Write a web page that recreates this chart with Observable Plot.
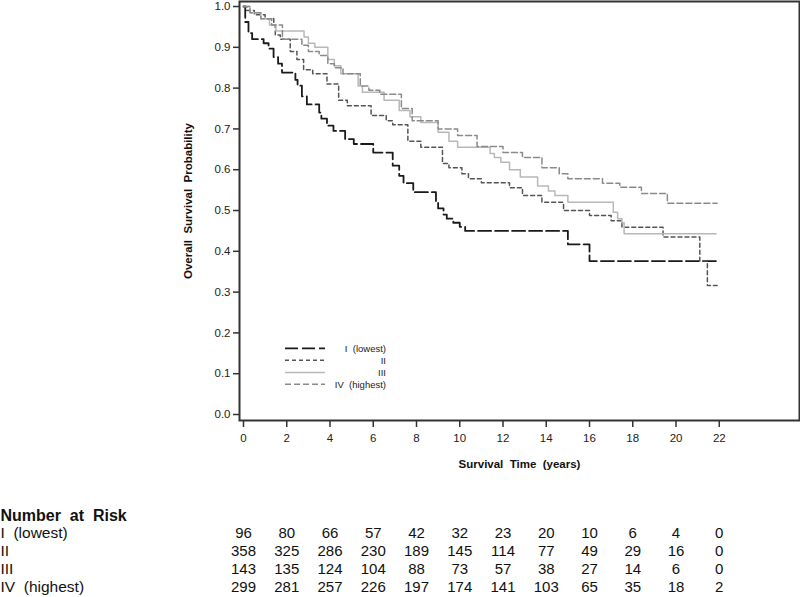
<!DOCTYPE html>
<html>
<head>
<meta charset="utf-8">
<script src="https://cdn.jsdelivr.net/npm/d3@7"></script>
<script src="https://cdn.jsdelivr.net/npm/@observablehq/plot@0.6"></script>
<style>
  html, body { margin: 0; padding: 0; background: #fff; }
  #wrap { position: relative; width: 800px; height: 597px; font-family: "Liberation Sans", Arial, Helvetica, sans-serif; }
  #wrap svg { display: block; white-space: pre; }
  #legend { position: absolute; left: 0; top: 0; }
</style>
</head>
<body>
<div id="wrap"></div>
<script>
// ---- Data ----
const groups = ["I (lowest)", "II", "III", "IV (highest)"];
const groupColors = ["#1a1a1a", "#555555", "#b8b8b8", "#8a8a8a"];
const groupDash = ["13,4", "4,3", "none", "6,3"];
const groupWidth = [1.8, 1.5, 1.5, 1.5];

const I_time = [0, 0.08, 0.23, 0.4, 0.93, 1.16, 1.39, 1.6, 1.78, 2.4, 2.5, 2.7, 2.93, 3.5, 3.6, 3.86, 4.16, 4.7, 5.1, 6.0, 6.9, 7.2, 7.4, 7.85, 8.9, 9.0, 9.25, 9.4, 9.7, 10.0, 10.25, 15.0, 16.0, 21.9];
const I_surv = [1.0, 0.962, 0.935, 0.92, 0.91, 0.897, 0.876, 0.86, 0.838, 0.82, 0.806, 0.78, 0.76, 0.74, 0.725, 0.708, 0.695, 0.675, 0.663, 0.642, 0.61, 0.585, 0.567, 0.545, 0.52, 0.505, 0.49, 0.48, 0.47, 0.46, 0.45, 0.417, 0.376, 0.376];

const II_time = [0, 0.15, 0.5, 1.0, 1.4, 1.47, 1.7, 2.16, 2.47, 2.78, 3.2, 3.86, 4.4, 4.8, 5.9, 6.6, 6.9, 7.6, 8.2, 9.2, 9.5, 10.1, 10.4, 11.0, 12.3, 12.9, 13.8, 14.8, 16.0, 17.0, 17.5, 19.4, 21.1, 21.45, 21.9];
const II_surv = [1.0, 0.99, 0.98, 0.97, 0.955, 0.93, 0.92, 0.89, 0.87, 0.845, 0.835, 0.81, 0.77, 0.757, 0.733, 0.72, 0.71, 0.67, 0.655, 0.615, 0.605, 0.59, 0.578, 0.568, 0.556, 0.537, 0.52, 0.50, 0.488, 0.475, 0.459, 0.435, 0.376, 0.316, 0.316];

const III_time = [0, 0.3, 0.8, 1.2, 1.5, 2.8, 3.0, 3.3, 3.9, 4.2, 4.5, 5.3, 5.5, 6.5, 7.2, 7.7, 8.2, 9.0, 9.5, 9.9, 11.4, 11.6, 11.9, 12.3, 12.8, 13.6, 14.1, 14.4, 15.0, 17.1, 17.3, 17.5, 17.6, 21.85];
const III_surv = [1.0, 0.985, 0.97, 0.955, 0.94, 0.925, 0.91, 0.90, 0.87, 0.855, 0.835, 0.805, 0.79, 0.77, 0.745, 0.73, 0.716, 0.692, 0.67, 0.655, 0.64, 0.63, 0.618, 0.60, 0.582, 0.56, 0.548, 0.537, 0.52, 0.496, 0.48, 0.47, 0.443, 0.443];

const IV_time = [0, 0.3, 0.8, 1.3, 1.8, 2.7, 3.0, 3.5, 3.9, 4.2, 4.6, 5.4, 5.8, 6.3, 7.3, 7.8, 9.0, 9.9, 10.8, 12.0, 12.9, 13.8, 14.6, 15.0, 16.6, 17.4, 18.4, 19.6, 21.9];
const IV_surv = [1.0, 0.985, 0.97, 0.955, 0.92, 0.905, 0.89, 0.88, 0.86, 0.85, 0.835, 0.805, 0.795, 0.785, 0.75, 0.72, 0.70, 0.684, 0.657, 0.642, 0.63, 0.605, 0.59, 0.578, 0.567, 0.557, 0.542, 0.518, 0.518];

const xTicks = [0, 2, 4, 6, 8, 10, 12, 14, 16, 18, 20, 22];
const yTicks = [0, 0.1, 0.2, 0.3, 0.4, 0.5, 0.6, 0.7, 0.8, 0.9, 1.0];

const xLabel = "Survival  Time  (years)";
const yLabel = "Overall  Survival  Probability";
const riskTitle = "Number  at  Risk";
const riskLabels = ["I  (lowest)", "II", "III", "IV  (highest)"];
const risk_I = [96, 80, 66, 57, 42, 32, 23, 20, 10, 6, 4, 0];
const risk_II = [358, 325, 286, 230, 189, 145, 114, 77, 49, 29, 16, 0];
const risk_III = [143, 135, 124, 104, 88, 73, 57, 38, 27, 14, 6, 0];
const risk_IV = [299, 281, 257, 226, 197, 174, 141, 103, 65, 35, 18, 2];

// ---- Build tables ----
const series = [[I_time, I_surv], [II_time, II_surv], [III_time, III_surv], [IV_time, IV_surv]];
const xDomain = [-0.185, 25.71];
const yDomain = [-0.0147, 1.0123];
const font = "'Liberation Sans', Arial, Helvetica, sans-serif";

const lineMarks = series.map(([t, s], gi) =>
  Plot.line(t.map((v, i) => ({time: v, surv: s[i]})), {
    x: "time", y: "surv", curve: "step-after",
    stroke: groupColors[gi], strokeWidth: groupWidth[gi],
    strokeDasharray: groupDash[gi]
  })
);

const main = Plot.plot({
  width: 800, height: 500,
  marginLeft: 239, marginRight: 1, marginTop: 1, marginBottom: 80,
  style: {fontFamily: font, fontSize: "11.5px", color: "#222", background: "#fff"},
  x: {domain: xDomain, ticks: xTicks, tickFormat: d3.format("d")},
  y: {domain: yDomain, ticks: yTicks, tickFormat: d3.format(".1f")},
  marks: [
    ...lineMarks,
    Plot.frame({stroke: "#333", strokeWidth: 2}),
    Plot.axisX(xTicks, {tickSize: 7, tickPadding: 6, stroke: "#333", strokeWidth: 1.5, label: null, fontSize: 11.5}),
    Plot.axisY(yTicks, {tickSize: 6, tickPadding: 3, stroke: "#333", strokeWidth: 1.5, label: null, fontSize: 11.5, tickFormat: d3.format(".1f")}),
    Plot.text([xLabel], {frameAnchor: "bottom", textAnchor: "middle", dy: 47, fontWeight: "bold", fontSize: 11.5, fill: "#111"}),
    Plot.text([yLabel], {frameAnchor: "left", textAnchor: "middle", dx: -51, dy: -10, rotate: -90, fontWeight: "bold", fontSize: 11.5, fill: "#111"})
  ]
});

// ---- Number at risk table (second plot sharing the x mapping) ----
const riskRows = [risk_I, risk_II, risk_III, risk_IV];
const riskData = [];
riskRows.forEach((row, ri) => row.forEach((n, ti) => riskData.push({time: xTicks[ti], row: ri, n})));
const labelData = riskLabels.map((l, ri) => ({row: ri, label: l}));

const table = Plot.plot({
  width: 800, height: 97,
  marginLeft: 239, marginRight: 1, marginTop: 0, marginBottom: 0,
  style: {fontFamily: font, background: "#fff"},
  x: {domain: xDomain, axis: null},
  y: {domain: [-1, 3], range: [15, 86.5], axis: null},
  marks: [
    Plot.text([riskTitle], {y: () => -1, frameAnchor: "left", dx: -239, textAnchor: "start", fontWeight: "bold", fontSize: 16, fill: "#111"}),
    Plot.text(labelData, {y: "row", text: "label", frameAnchor: "left", dx: -239, textAnchor: "start", fontSize: 15.5, fill: "#111"}),
    Plot.text(riskData, {x: "time", y: "row", text: "n", textAnchor: "middle", fontSize: 15, fill: "#111"})
  ]
});

const wrap = document.getElementById("wrap");
wrap.appendChild(main);
wrap.appendChild(table);

// ---- Legend overlay ----
const leg = d3.select(wrap).append("svg").attr("id", "legend")
  .attr("width", 800).attr("height", 500).style("pointer-events", "none");
const legY = [348.3, 360.3, 372.5, 384.3];
groups.forEach((g, i) => {
  leg.append("line").attr("x1", 285).attr("x2", 325).attr("y1", legY[i]).attr("y2", legY[i])
    .attr("stroke", groupColors[i]).attr("stroke-width", groupWidth[i])
    .attr("stroke-dasharray", groupDash[i]);
  leg.append("text").attr("x", 386).attr("y", legY[i]).attr("dy", "0.35em")
    .attr("text-anchor", "end").attr("font-size", 9.5).attr("font-family", font)
    .attr("fill", "#222").style("white-space", "pre")
    .text(g.replace(" ", "  "));
});
</script>
</body>
</html>
